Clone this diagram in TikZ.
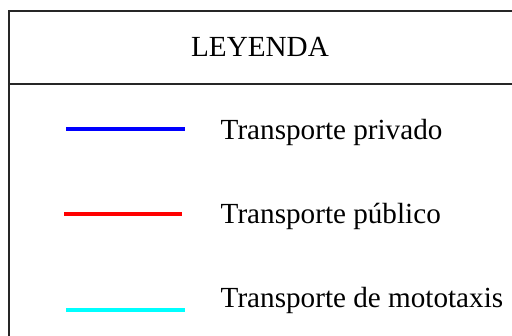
\documentclass[tikz,border=0pt]{standalone}
\usepackage{fontspec}
\setmainfont{Liberation Serif}
\usetikzlibrary{positioning}
\definecolor{cianmoto}{RGB}{0,255,255}

\begin{document}
\begin{tikzpicture}[
    font=\fontsize{8.3}{10}\selectfont,
    marco/.style={draw=black!85, line width=0.6pt},
    etiqueta/.style={anchor=west, inner sep=0pt},
    linea/.style={line width=1.1pt},
    titulo/.style={inner sep=0pt}
]
\useasboundingbox (0,0) rectangle (5.12,3.36);

% ============================================================
% MARCO DE LA LEYENDA
% ============================================================
\coordinate (sup) at (0.09,3.25);
\coordinate (inf) at (5.30,-0.20);
\coordinate (divi) at (0.09,2.52);
\coordinate (divd) at (5.30,2.52);
\draw[marco] (sup) rectangle (inf);
\draw[marco] (divi) -- (divd);

\node[titulo] (leyenda) at (2.60,2.89) {LEYENDA};

% ============================================================
% ENTRADAS
% ============================================================
\node[etiqueta] (privado) at (2.20,2.04) {Transporte privado};
\node[etiqueta] (publico) at (2.20,1.20) {Transporte público};
\node[etiqueta] (mototaxi) at (2.20,0.36) {Transporte de mototaxis};

\coordinate (priv0) at (0.66,2.07);
\coordinate (priv1) at (1.85,2.07);
\coordinate (pub0) at (0.64,1.22);
\coordinate (pub1) at (1.82,1.22);
\coordinate (moto0) at (0.66,0.26);
\coordinate (moto1) at (1.85,0.26);

\draw[linea, blue] (priv0) -- (priv1);
\draw[linea, red] (pub0) -- (pub1);
\draw[linea, cianmoto] (moto0) -- (moto1);

\end{tikzpicture}
\end{document}
